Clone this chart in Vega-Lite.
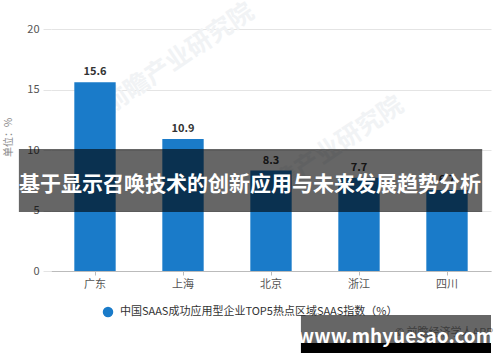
{
  "$schema": "https://vega.github.io/schema/vega-lite/v6.json",
  "width": 440,
  "height": 242,
  "autosize": {"type": "none"},
  "padding": {"left": 51, "top": 29, "right": 9, "bottom": 91},
  "background": "white",
  "config": {
    "view": {"stroke": null},
    "font": "Noto Sans CJK SC",
    "text": {"font": "Noto Sans CJK SC"}
  },
  "datasets": {
    "bars": [
      {"region": "广东", "value": 15.6, "series": "中国SAAS成功应用型企业TOP5热点区域SAAS指数（%）"},
      {"region": "上海", "value": 10.9, "series": "中国SAAS成功应用型企业TOP5热点区域SAAS指数（%）"},
      {"region": "北京", "value": 8.3, "series": "中国SAAS成功应用型企业TOP5热点区域SAAS指数（%）"},
      {"region": "浙江", "value": 7.7, "series": "中国SAAS成功应用型企业TOP5热点区域SAAS指数（%）"},
      {"region": "四川", "value": 6.7, "series": "中国SAAS成功应用型企业TOP5热点区域SAAS指数（%）"}
    ],
    "marks": [
      {"label": "前瞻产业研究院", "px": 29, "py": 17.6},
      {"label": "前瞻产业研究院", "px": 63, "py": 9.9}
    ],
    "boxes": [
      {"name": "banner", "x0": -7.3, "x1": 98, "y0": 10.08, "y1": 4.88, "op": 0.6},
      {"name": "wm", "x0": 56.8, "x1": 100, "y0": -3.64, "y1": -5.95, "op": 0.6},
      {"name": "wmbottom", "x0": 56.8, "x1": 100, "y0": -5.95, "y1": -6.78, "op": 1}
    ],
    "source": [
      {"label": "© 前瞻经济学人APP", "px": 100.5, "py": -5.1}
    ],
    "overlaytext": [
      {"label": "基于显示召唤技术的创新应用与未来发展趋势分析", "px": 45.2, "py": 7.1, "size": 21},
      {"label": "www.mhyuesao.com", "px": 78.4, "py": -5.45, "size": 19}
    ]
  },
  "resolve": {"scale": {"x": "independent"}, "axis": {"x": "independent"}},
  "layer": [
    {
      "data": {"name": "marks"},
      "mark": {"type": "text", "angle": 326, "fontSize": 25, "fontWeight": "bold", "color": "#f1f3f5"},
      "encoding": {
        "x": {"field": "px", "type": "quantitative", "scale": {"domain": [0, 100]}, "axis": null},
        "y": {"field": "py", "type": "quantitative", "scale": {"domain": [0, 20], "nice": false}},
        "text": {"field": "label"}
      }
    },
    {
      "layer": [
        {
          "data": {"name": "bars"},
          "mark": {"type": "bar", "color": "#1a7bc9"},
          "encoding": {
            "x": {
              "field": "region", "type": "nominal", "sort": null,
              "scale": {"paddingInner": 0.53, "paddingOuter": 0.265},
              "axis": {
                "title": null, "labelAngle": 0, "labelFontSize": 11, "labelColor": "#555",
                "domainColor": "#bbbbbb", "tickColor": "#bbbbbb", "tickSize": 4, "labelPadding": 3,
                "grid": false
              }
            },
            "y": {
              "field": "value", "type": "quantitative",
              "scale": {"domain": [0, 20], "nice": false},
              "axis": {
                "values": [0, 5, 10, 15, 20], "title": "单位：%", "titleFontSize": 10,
                "titleFontWeight": "normal", "titleColor": "#888", "titleX": -38, "titleY": 108,
                "labelFontSize": 11, "labelColor": "#555", "domain": false,
                "tickColor": "#e4e4e4", "tickSize": 8, "labelPadding": 4,
                "gridColor": "#e4e4e4"
              }
            },
            "color": {
              "field": "series", "type": "nominal",
              "scale": {"range": ["#1a7bc9"]},
              "legend": {
                "title": null, "orient": "none", "legendX": 51, "legendY": 277, "padding": 0,
                "symbolType": "circle", "symbolSize": 110, "labelFontSize": 11, "labelColor": "#333",
                "labelOffset": 6, "labelLimit": 0
              }
            }
          }
        },
        {
          "data": {"name": "bars"},
          "mark": {"type": "text", "dy": -10, "fontSize": 11, "fontWeight": "bold", "color": "#333"},
          "encoding": {
            "x": {"field": "region", "type": "nominal", "sort": null},
            "y": {"field": "value", "type": "quantitative"},
            "text": {"field": "value", "type": "quantitative", "format": ".1f"}
          }
        }
      ]
    },
    {
      "data": {"name": "source"},
      "mark": {"type": "text", "align": "right", "fontSize": 11, "color": "#999"},
      "encoding": {
        "x": {"field": "px", "type": "quantitative", "scale": {"domain": [0, 100]}, "axis": null},
        "y": {"field": "py", "type": "quantitative"},
        "text": {"field": "label"}
      }
    },
    {
      "data": {"name": "boxes"},
      "mark": {"type": "rect", "color": "black"},
      "encoding": {
        "x": {"field": "x0", "type": "quantitative", "scale": {"domain": [0, 100]}, "axis": null},
        "x2": {"field": "x1"},
        "y": {"field": "y0", "type": "quantitative"},
        "y2": {"field": "y1"},
        "opacity": {"field": "op", "type": "quantitative", "scale": null, "legend": null}
      }
    },
    {
      "data": {"name": "overlaytext"},
      "mark": {"type": "text", "fontWeight": "bold", "color": "white", "baseline": "middle"},
      "encoding": {
        "x": {"field": "px", "type": "quantitative", "scale": {"domain": [0, 100]}, "axis": null},
        "y": {"field": "py", "type": "quantitative"},
        "text": {"field": "label"},
        "size": {"field": "size", "type": "quantitative", "scale": null, "legend": null}
      }
    }
  ]
}
